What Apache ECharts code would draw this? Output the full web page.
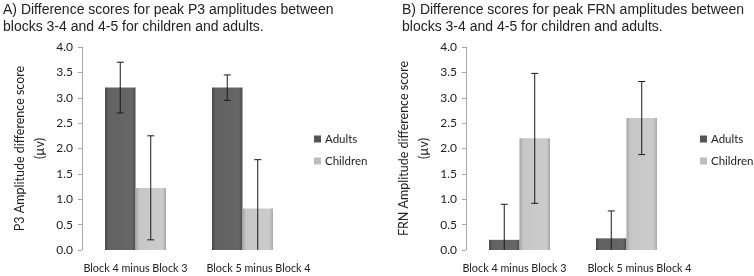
<!DOCTYPE html>
<html>
<head>
<meta charset="utf-8">
<script src="https://cdn.jsdelivr.net/npm/echarts@6/dist/echarts.min.js"></script>
<style>
  html, body { margin: 0; padding: 0; background: #fff; }
  #chart { width: 754px; height: 276px; }
</style>
</head>
<body>
<div id="chart"></div>
<script>
// categories shared by both panels
const categories = ["Block 4 minus Block 3", "Block 5 minus Block 4"];

// Panel A - P3
const p3Adults = [3.2, 3.2];
const p3AdultsLow = [2.7, 2.95];
const p3AdultsHigh = [3.7, 3.45];
const p3Children = [1.22, 0.82];
const p3ChildrenLow = [0.2, -0.14];
const p3ChildrenHigh = [2.25, 1.78];

// Panel B - FRN
const frnAdults = [0.2, 0.23];
const frnAdultsLow = [-0.5, -0.31];
const frnAdultsHigh = [0.9, 0.77];
const frnChildren = [2.2, 2.6];
const frnChildrenLow = [0.92, 1.88];
const frnChildrenHigh = [3.48, 3.32];

const BAR_SHARE = 0.285; // bar width as share of the category band

const adultFill = new echarts.graphic.LinearGradient(0, 0, 1, 0, [
  {offset: 0, color: "#474747"},
  {offset: 0.12, color: "#626262"},
  {offset: 0.88, color: "#666666"},
  {offset: 1, color: "#4a4a4a"},
]);
const childFill = new echarts.graphic.LinearGradient(0, 0, 1, 0, [
  {offset: 0, color: "#a4a4a4"},
  {offset: 0.12, color: "#c6c6c6"},
  {offset: 0.88, color: "#cbcbcb"},
  {offset: 1, color: "#a8a8a8"},
]);

const font = "Lato, 'Open Sans', sans-serif";

// error bar drawn next to the bar centre (side: -1 left bar, +1 right bar)
const errorSeries = (name, idx, low, high, side) => ({
  name,
  type: "custom",
  xAxisIndex: idx,
  yAxisIndex: idx,
  clip: true,
  silent: true,
  z: 5,
  data: low.map((l, i) => [i, l, high[i]]),
  renderItem: (params, api) => {
    const band = api.size([1, 0])[0];
    const dx = side * band * BAR_SHARE / 2;
    const lo = api.coord([api.value(0), api.value(1)]);
    const hi = api.coord([api.value(0), api.value(2)]);
    const x = lo[0] + dx;
    const cap = 3.5;
    const style = {stroke: "#1a1a1a", lineWidth: 1};
    return {
      type: "group",
      children: [
        {type: "line", shape: {x1: x, y1: lo[1], x2: x, y2: hi[1]}, style},
        {type: "line", shape: {x1: x - cap, y1: hi[1], x2: x + cap, y2: hi[1]}, style},
        {type: "line", shape: {x1: x - cap, y1: lo[1], x2: x + cap, y2: lo[1]}, style},
      ],
    };
  },
});

const barSeries = (name, idx, data, fill) => ({
  name,
  type: "bar",
  xAxisIndex: idx,
  yAxisIndex: idx,
  data,
  barWidth: (BAR_SHARE * 100) + "%",
  barGap: "0%",
  itemStyle: {color: fill},
});

const makeYAxis = (idx, title) => ({
  type: "value",
  gridIndex: idx,
  min: 0,
  max: 4,
  interval: 0.5,
  name: title,
  nameLocation: "middle",
  nameRotate: 90,
  nameGap: 32,
  nameTextStyle: {fontFamily: font, fontSize: 12.5, color: "#222", lineHeight: 20},
  axisLine: {show: true, lineStyle: {color: "#a8a8a8"}},
  axisTick: {show: true, length: 4, lineStyle: {color: "#a8a8a8"}},
  splitLine: {show: false},
  axisLabel: {
    fontFamily: font,
    fontSize: 12,
    color: "#222",
    margin: 9,
    formatter: (v) => v.toFixed(1),
  },
});

// shifts: label nudges (px) so the labels sit as in the original layout
const makeXAxis = (idx, shifts) => ({
  type: "category",
  gridIndex: idx,
  data: categories.map((c, i) => ({
    value: c,
    textStyle: {padding: shifts[i] > 0 ? [0, 0, 0, 2 * shifts[i]] : [0, -2 * shifts[i], 0, 0]},
  })),
  axisLine: {show: false},
  axisTick: {show: false},
  axisLabel: {interval: 0, fontFamily: font, fontSize: 10.8, color: "#222", margin: 13},
});

const legendData = [
  {name: "Adults", itemStyle: {color: "#555555"}},
  {name: "Children", itemStyle: {color: "#bdbdbd"}},
];

const makeLegend = (left) => ({
  orient: "vertical",
  left,
  top: 128,
  icon: "rect",
  itemWidth: 7,
  itemHeight: 7,
  itemGap: 10,
  data: legendData,
  selectedMode: false,
  textStyle: {fontFamily: font, fontSize: 11.5, color: "#222", padding: [0, 0, 0, -1]},
});

const chart = echarts.init(document.getElementById("chart"), null, {renderer: "canvas"});

chart.setOption({
  animation: false,
  backgroundColor: "#ffffff",
  title: [
    {
      text: "A) Difference scores for peak P3 amplitudes between\nblocks 3-4 and 4-5 for children and adults.",
      left: 3,
      top: 2,
      padding: 0,
      textStyle: {fontFamily: "'Liberation Sans', Arial, sans-serif", fontSize: 14, fontWeight: "normal", color: "#222", lineHeight: 17},
    },
    {
      text: "B) Difference scores for peak FRN amplitudes between\nblocks 3-4 and 4-5 for children and adults.",
      left: 402,
      top: 2,
      padding: 0,
      textStyle: {fontFamily: "'Liberation Sans', Arial, sans-serif", fontSize: 14, fontWeight: "normal", color: "#222", lineHeight: 17},
    },
  ],
  legend: [makeLegend(309), makeLegend(695)],
  grid: [
    {left: 82, top: 47, width: 214, height: 203},
    {left: 466, top: 47, width: 214, height: 203},
  ],
  xAxis: [makeXAxis(0, [0, 16]), makeXAxis(1, [-5, 13])],
  yAxis: [
    makeYAxis(0, "P3 Amplitude difference score\n(µv)"),
    makeYAxis(1, "FRN Amplitude difference score\n(µv)"),
  ],
  series: [
    barSeries("Adults", 0, p3Adults, adultFill),
    barSeries("Children", 0, p3Children, childFill),
    errorSeries("Adults", 0, p3AdultsLow, p3AdultsHigh, -1),
    errorSeries("Children", 0, p3ChildrenLow, p3ChildrenHigh, 1),
    barSeries("Adults", 1, frnAdults, adultFill),
    barSeries("Children", 1, frnChildren, childFill),
    errorSeries("Adults", 1, frnAdultsLow, frnAdultsHigh, -1),
    errorSeries("Children", 1, frnChildrenLow, frnChildrenHigh, 1),
  ],
});
</script>
</body>
</html>
